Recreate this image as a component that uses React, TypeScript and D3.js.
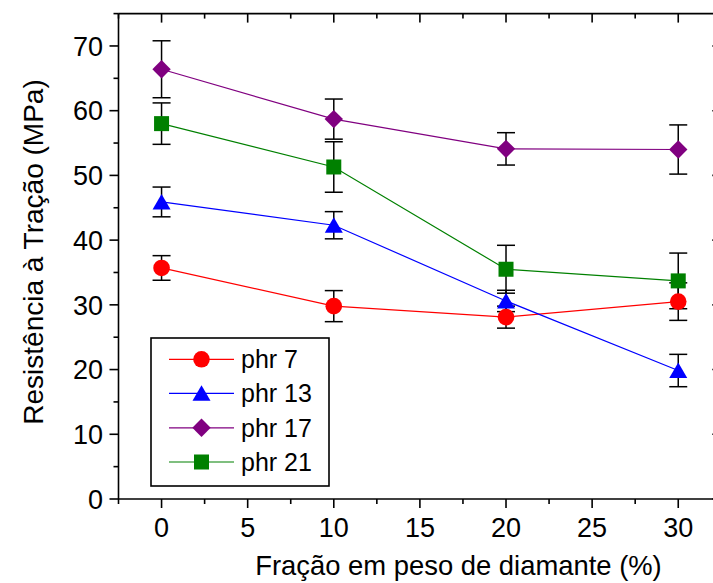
import React from "react";
import * as d3 from "d3";

const xValues = [0, 10, 20, 30];
const seriesNames = ["phr 7", "phr 13", "phr 17", "phr 21"];
const phr7 = [35.7, 29.8, 28.1, 30.5];
const phr7Err = [1.9, 2.4, 1.7, 2.9];
const phr13 = [45.9, 42.3, 30.6, 19.85];
const phr13Err = [2.3, 2.1, 1.65, 2.5];
const phr17 = [66.4, 58.7, 54.1, 54.0];
const phr17Err = [4.4, 3.1, 2.5, 3.8];
const phr21 = [58.0, 51.3, 35.5, 33.7];
const phr21Err = [3.2, 3.9, 3.7, 4.3];
const xTicks = [0, 5, 10, 15, 20, 25, 30];
const yTicks = [0, 10, 20, 30, 40, 50, 60, 70];

const colors = ["#ff0000", "#0000ff", "#800080", "#008000"];
const shapes = ["circle", "triangle", "diamond", "square"];

const W = 713, H = 583;
const x = d3.scaleLinear().domain([-2.5, 32.5]).range([118.5, 721.3]);
const y = d3.scaleLinear().domain([0, 75]).range([499, 13.6]);
const FONT = "Liberation Sans, Arial, sans-serif";

function Marker({ shape, cx, cy, color }: { shape: string; cx: number; cy: number; color: string }) {
  if (shape === "circle") return <circle cx={cx} cy={cy} r={8.3} fill={color} />;
  if (shape === "square") return <rect x={cx - 7.5} y={cy - 7.5} width={15} height={15} fill={color} />;
  if (shape === "diamond")
    return <path d={`M${cx},${cy - 9.2}L${cx + 9.2},${cy}L${cx},${cy + 9.2}L${cx - 9.2},${cy}Z`} fill={color} />;
  return <path d={`M${cx},${cy - 8}L${cx + 9},${cy + 7.5}L${cx - 9},${cy + 7.5}Z`} fill={color} />;
}

export default function App() {
  const data = [phr7, phr13, phr17, phr21];
  const errs = [phr7Err, phr13Err, phr17Err, phr21Err];
  const line = d3.line<number>().x((_, i) => x(xValues[i])).y((d) => y(d));
  const xMinor = d3.range(-2.5, 32.6, 2.5);
  const yMinor = d3.range(0, 75.1, 5);
  const x0 = x(-2.5), x1 = x(32.5), y0 = y(0), y1 = y(75);
  const legendRows = [359.3, 393.3, 427.8, 462];
  return (
    <svg width={W} height={H} style={{ position: "absolute", left: 0, top: 0, background: "#fff" }} fontFamily={FONT}>
      <rect width={W} height={H} fill="#fff" />
      {data.map((s, si) =>
        s.map((v, i) => {
          const cx = x(xValues[i]);
          const ya = y(v + errs[si][i]), yb = y(v - errs[si][i]);
          return (
            <g key={`e${si}-${i}`} stroke="#000" strokeWidth={1.5}>
              <line x1={cx} x2={cx} y1={ya} y2={yb} />
              <line x1={cx - 9} x2={cx + 9} y1={ya} y2={ya} />
              <line x1={cx - 9} x2={cx + 9} y1={yb} y2={yb} />
            </g>
          );
        })
      )}
      {data.map((s, si) => (
        <path key={`l${si}`} d={line(s) || ""} fill="none" stroke={colors[si]} strokeWidth={1.2} />
      ))}
      {data.map((s, si) =>
        s.map((v, i) => <Marker key={`m${si}-${i}`} shape={shapes[si]} cx={x(xValues[i])} cy={y(v)} color={colors[si]} />)
      )}
      <g stroke="#000" strokeWidth={1.6} fill="none">
        <line x1={x0} x2={x1} y1={y0} y2={y0} />
        <line x1={x0} x2={x1} y1={y1} y2={y1} />
        <line x1={x0} x2={x0} y1={y0} y2={y1} />
        <line x1={x1} x2={x1} y1={y0} y2={y1} />
        {xMinor.map((t) => {
          const major = Math.abs(t % 5) < 1e-6;
          const len = major ? 9 : 5;
          return (
            <g key={`xt${t}`}>
              <line x1={x(t)} x2={x(t)} y1={y0} y2={y0 + len} />
              <line x1={x(t)} x2={x(t)} y1={y1} y2={y1 + len} />
            </g>
          );
        })}
        {yMinor.map((t) => {
          const major = Math.abs(t % 10) < 1e-6;
          const len = major ? 9 : 5;
          return (
            <g key={`yt${t}`}>
              <line x1={x0 - len} x2={x0} y1={y(t)} y2={y(t)} />
              <line x1={x1 - len} x2={x1} y1={y(t)} y2={y(t)} />
            </g>
          );
        })}
      </g>
      {xTicks.map((t) => (
        <text key={`xl${t}`} x={x(t)} y={537} fontSize={27} textAnchor="middle" fill="#000">
          {t}
        </text>
      ))}
      {yTicks.map((t) => (
        <text key={`yl${t}`} x={103} y={y(t)} dy="0.36em" fontSize={27} textAnchor="end" fill="#000">
          {t}
        </text>
      ))}
      <text x={(255 + 662) / 2} y={575} fontSize={27.4} textAnchor="middle" fill="#000">
        Fração em peso de diamante (%)
      </text>
      <text transform={`translate(43,${(77 + 427) / 2}) rotate(-90)`} fontSize={28} textAnchor="middle" fill="#000">
        Resistência à Tração (MPa)
      </text>
      <rect x={151} y={338} width={178} height={148} fill="#fff" stroke="#000" strokeWidth={1.6} />
      {seriesNames.map((n, i) => (
        <g key={`lg${i}`}>
          <line x1={169} x2={234} y1={legendRows[i]} y2={legendRows[i]} stroke={colors[i]} strokeWidth={1.2} />
          <Marker shape={shapes[i]} cx={201.5} cy={legendRows[i]} color={colors[i]} />
          <text x={241} y={legendRows[i]} dy="0.36em" fontSize={25} fill="#000">
            {n}
          </text>
        </g>
      ))}
    </svg>
  );
}
